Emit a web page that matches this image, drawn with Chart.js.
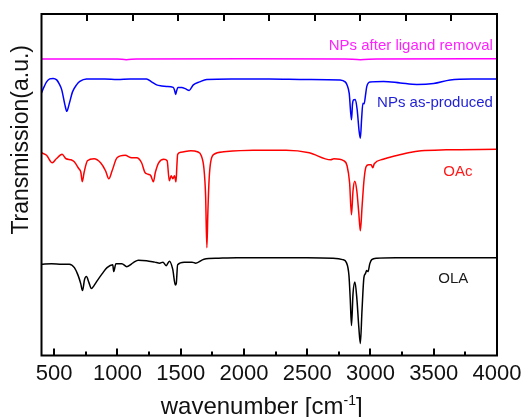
<!DOCTYPE html>
<html lang="en">
<head>
<meta charset="UTF-8">
<title>FTIR spectra</title>
<script src="https://cdn.jsdelivr.net/npm/chart.js"></script>
<style>
  html, body { margin: 0; padding: 0; background: #fff; }
  #wrap { width: 529px; height: 417px; }
</style>
</head>
<body>
<div id="wrap"><canvas id="ftirChart"></canvas></div>
<script>
// axis ticks
const xMajorTicks = [500, 1000, 1500, 2000, 2500, 3000, 3500, 4000];
const xMinorTicks = [750, 1250, 1750, 2250, 2750, 3250, 3750];
const topTicks = [1, 2, 3, 4, 5, 6, 7, 8, 9];   // top axis runs 0..10

// OLA (black)
const olaWave = [400, 480, 560, 620, 660, 690, 710, 724, 740, 755, 775, 794, 815, 841, 880, 918, 963, 971, 988,
  1035, 1074, 1126, 1165, 1230, 1295, 1334, 1360, 1385, 1411, 1437, 1458, 1465, 1476, 1528, 1590, 1619, 1684,
  1800, 1943, 2200, 2500, 2700, 2780, 2810, 2830, 2840, 2850, 2862, 2877, 2893, 2908, 2920, 2933, 2948, 2960,
  2970, 2980, 2995, 3010, 3050, 3200, 3600, 4000];
const olaT = [91.5, 92, 91.5, 91.5, 88, 80, 72, 65, 76, 79, 73, 67, 70, 75, 82, 88, 91, 84, 92,
  92, 89, 93, 95.5, 95, 93.5, 92.5, 93.5, 90, 94.5, 86.5, 70.5, 72, 91, 93.5, 93.5, 92.5, 96.5,
  97.5, 98, 98, 98, 97.5, 96, 93, 80, 57, 30, 62, 73.5, 56, 28, 12, 45, 78, 82,
  85, 84, 92, 96, 97.5, 98, 98, 98];

// OAc (red)
const oacWave = [400, 440, 485, 517, 563, 594, 633, 659, 693, 711, 722, 737, 763, 815, 867, 906, 932, 958, 997,
  1061, 1113, 1152, 1191, 1217, 1243, 1264, 1284, 1300, 1326, 1367, 1393, 1410, 1425, 1438, 1451, 1463, 1470,
  1476, 1502, 1580, 1632, 1663, 1684, 1697, 1707, 1715, 1725, 1736, 1762, 1840, 2073, 2333, 2516, 2685, 2711,
  2790, 2815, 2835, 2850, 2862, 2876, 2892, 2908, 2920, 2934, 2950, 2965, 2985, 3005, 3018, 3030, 3100, 3200,
  3300, 3400, 3600, 4000];
const oacT = [203, 200.5, 193, 197, 201.5, 197, 196, 194, 187.5, 183.5, 174, 183.5, 195, 197, 193, 185, 177, 185, 198,
  200.5, 198, 198, 193, 183.5, 181.5, 180, 174, 183.5, 193, 196.5, 195, 175, 180, 177, 180, 174, 190,
  201.5, 203.5, 205, 204, 200, 187, 160, 108, 144, 177, 193, 201.5, 204, 205.5, 205.5, 203, 196, 197,
  195, 190, 173, 141, 165, 174.5, 165, 142, 125, 150, 177, 189, 191, 191, 188, 192, 196.5, 200,
  203, 205, 206, 206.5];

// NPs as-produced (blue)
const npWave = [400, 420, 440, 465, 492, 520, 540, 560, 585, 600, 620, 645, 677, 703, 756, 900, 1000, 1100, 1230,
  1270, 1310, 1350, 1389, 1441, 1451, 1460, 1468, 1478, 1508, 1540, 1567, 1600, 1650, 1706, 1900, 2200, 2500,
  2760, 2800, 2815, 2832, 2850, 2858, 2866, 2880, 2895, 2910, 2920, 2930, 2940, 2950, 2960, 2971, 2997, 3103,
  3235, 3367, 3499, 3630, 3800, 4000];
const npT = [263, 269, 274, 277, 277.5, 276, 272, 266, 251, 244.5, 252.5, 264, 271, 274.5, 277, 277, 276.5, 277, 277,
  274, 271, 270, 269.5, 268.5, 266, 261.5, 265, 268.5, 268.5, 267, 265.5, 271, 274, 276.5, 277, 277, 276.5,
  276, 274, 271, 262.5, 236, 252, 256, 256.5, 246, 225, 217.5, 237, 252.5, 252, 260, 269.5, 274, 274.5,
  273, 271.5, 272.5, 276, 277, 277];

// NPs after ligand removal (magenta)
const cleanWave = [400, 1000, 1070, 1150, 2000, 2800, 2920, 3050, 4000];
const cleanT = [297, 297, 296.3, 297, 297.2, 297, 296.3, 297, 297.3];

// in-plot labels, anchored in data units
const seriesNames = ['OLA', 'OAc', 'NPs as-produced', 'NPs after ligand removal'];
const labelWave = [3654, 3691, 3968, 3968];
const labelT = [72.7, 180, 249.3, 306];
const labelAlign = ['center', 'center', 'right', 'right'];
const labelColors = ['#1a1a1a', '#ff1a1a', '#1f1fd6', '#ff22ff'];

const toPoints = (xs, ys) => xs.map((x, i) => ({ x: x, y: ys[i] }));

const FONT = "'Liberation Sans', Arial, sans-serif";

const frameAndText = {
  id: 'frameAndText',
  afterDraw(chart) {
    const { ctx, chartArea: a, scales } = chart;
    const x = scales.x, x2 = scales.x2, y = scales.y;
    ctx.save();
    ctx.fillStyle = '#000000';
    ctx.strokeStyle = '#000000';

    // inward ticks, drawn as thin filled bars
    for (const v of xMajorTicks) {
      ctx.fillRect(Math.round(x.getPixelForValue(v)) - 1, a.bottom - 7, 2, 7);
    }
    for (const v of xMinorTicks) {
      ctx.fillRect(Math.round(x.getPixelForValue(v)) - 1, a.bottom - 4, 2, 4);
    }
    for (const v of topTicks) {
      ctx.fillRect(Math.round(x2.getPixelForValue(v)) - 1, a.top, 2, 7);
    }

    // frame
    ctx.lineWidth = 2;
    ctx.strokeRect(a.left, a.top, a.right - a.left, a.bottom - a.top);

    // series labels
    ctx.font = '15px ' + FONT;
    ctx.textBaseline = 'alphabetic';
    seriesNames.forEach((name, i) => {
      ctx.fillStyle = labelColors[i];
      ctx.textAlign = labelAlign[i];
      ctx.fillText(name, x.getPixelForValue(labelWave[i]), y.getPixelForValue(labelT[i]));
    });

    // y title
    ctx.fillStyle = '#111';
    ctx.save();
    ctx.translate(a.left - 20, y.getPixelForValue(216));
    ctx.rotate(-Math.PI / 2);
    ctx.font = '23px ' + FONT;
    ctx.textAlign = 'center';
    ctx.textBaseline = 'middle';
    ctx.fillText('Transmission(a.u.)', 0, 0);
    ctx.restore();

    // x title with superscript
    const main = 'wavenumber [cm', sup = '-1', tail = ']';
    ctx.textAlign = 'left';
    ctx.textBaseline = 'alphabetic';
    ctx.font = '24px ' + FONT;
    const wMain = ctx.measureText(main).width;
    const wTail = ctx.measureText(tail).width;
    ctx.font = '14px ' + FONT;
    const wSup = ctx.measureText(sup).width;
    const total = wMain + wSup + wTail;
    const cx = x.getPixelForValue(2140) - total / 2;
    const base = chart.height - 3;
    ctx.font = '24px ' + FONT;
    ctx.fillText(main, cx, base);
    ctx.font = '14px ' + FONT;
    ctx.fillText(sup, cx + wMain, base - 9);
    ctx.font = '24px ' + FONT;
    ctx.fillText(tail, cx + wMain + wSup, base);
    ctx.restore();
  }
};

const lineSet = (label, pts, color) => ({
  label: label,
  data: pts,
  borderColor: color,
  backgroundColor: color,
  borderWidth: 1.5,
  pointRadius: 0,
  cubicInterpolationMode: 'monotone',
  fill: false
});

new Chart(document.getElementById('ftirChart'), {
  type: 'line',
  data: {
    datasets: [
      lineSet('OLA', toPoints(olaWave, olaT), '#000000'),
      lineSet('OAc', toPoints(oacWave, oacT), '#ff0000'),
      lineSet('NPs as-produced', toPoints(npWave, npT), '#0000ff'),
      lineSet('NPs after ligand removal', toPoints(cleanWave, cleanT), '#ff00ff')
    ]
  },
  options: {
    responsive: true,
    maintainAspectRatio: false,
    animation: false,
    layout: { padding: { left: 41.5, right: 32, top: 14, bottom: 0 } },
    plugins: { legend: { display: false }, tooltip: { enabled: false } },
    scales: {
      x: {
        type: 'linear',
        position: 'bottom',
        min: 400,
        max: 4000,
        grid: { display: false, drawTicks: false },
        border: { display: false },
        afterBuildTicks: scale => { scale.ticks = xMajorTicks.map(v => ({ value: v })); },
        afterFit: scale => { scale.height = 61.5; },
        ticks: {
          padding: 5,
          color: '#111',
          font: { family: FONT, size: 22 },
          maxRotation: 0,
          autoSkip: false,
          callback: v => String(v)
        }
      },
      x2: {
        type: 'linear',
        position: 'top',
        min: 0,
        max: 10,
        grid: { display: false, drawTicks: false },
        border: { display: false },
        ticks: { display: false },
        afterFit: scale => { scale.height = 0; }
      },
      y: {
        type: 'linear',
        display: false,
        min: 0,
        max: 342
      }
    }
  },
  plugins: [frameAndText]
});
</script>
</body>
</html>
